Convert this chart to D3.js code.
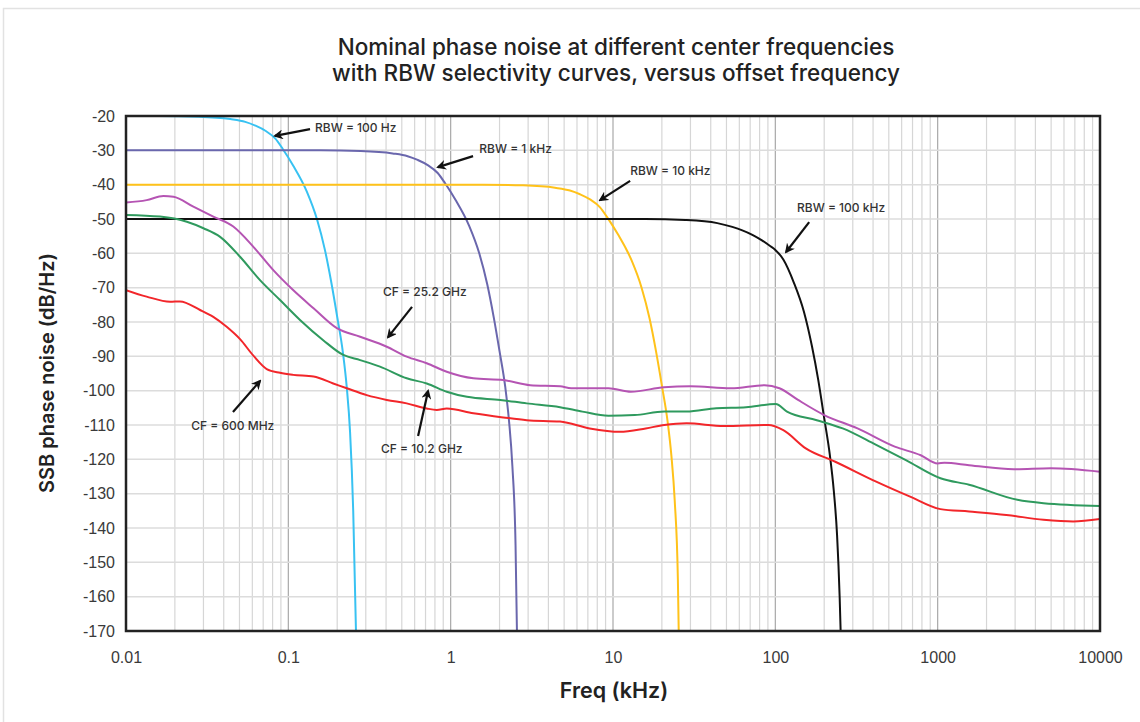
<!DOCTYPE html>
<html>
<head>
<meta charset="utf-8">
<script src="https://cdn.jsdelivr.net/npm/d3@7"></script>
<style>
  body { margin: 0; background: #fff; }
  svg { display: block; font-family: Inter, "Open Sans", sans-serif; }
  .tick text { fill: #3a3a3a; font-size: 16px; }
</style>
</head>
<body>
<svg width="1140" height="722"></svg>
<script>
// values: [offset freq (kHz), dB]
const rbw100Hz = [[0.01, -20], [0.0158, -20], [0.0279, -20.2], [0.0439, -20.9], [0.0543, -21.7],
  [0.0626, -22.8], [0.0722, -24.3], [0.0832, -26.6], [0.0924, -29.6], [0.107, -34.4], [0.13, -42],
  [0.15, -50], [0.168, -59], [0.184, -68.5], [0.2, -78.5], [0.217, -89], [0.229, -99],
  [0.24, -112], [0.251, -135], [0.261, -170]];
const rbw1kHz = [[0.01, -30], [0.158, -30], [0.279, -30.2], [0.439, -30.9], [0.543, -31.7],
  [0.626, -32.8], [0.722, -34.3], [0.832, -36.6], [0.924, -39.6], [1.07, -44.4], [1.3, -52],
  [1.5, -60], [1.68, -69], [1.84, -78.5], [2, -88.5], [2.17, -99], [2.29, -109],
  [2.4, -122], [2.51, -145], [2.56, -170]];
const rbw10kHz = [[0.01, -40], [1.58, -40], [2.79, -40.2], [4.39, -40.9], [5.43, -41.7],
  [6.26, -42.8], [7.22, -44.3], [8.32, -46.6], [9.24, -49.6], [10.7, -54.4], [13, -62],
  [15, -70], [16.8, -79], [18.4, -88.5], [20, -98.5], [21.7, -109], [22.9, -119],
  [24, -132], [25.1, -155], [25.4, -170]];
const rbw100kHz = [[0.01, -50], [15.8, -50], [27.9, -50.3], [43.9, -51.2], [54.3, -52.3],
  [62.6, -53.3], [72.2, -54.6], [83.2, -56.3], [92.4, -57.8], [100, -59], [112, -61.8],
  [130, -68.5], [150, -77], [168, -87], [184, -97], [200, -108], [217, -119], [229, -129],
  [240, -142], [249, -160], [252.5, -170]];

const cf25GHz = [[0.01, -45.2], [0.0134, -44.5], [0.017, -43.3], [0.0196, -43.5], [0.026, -46.4],
  [0.0345, -49.3], [0.0458, -52.2], [0.0609, -58.1], [0.0808, -64.9], [0.107, -70.7], [0.143, -76],
  [0.199, -81.8], [0.277, -84.3], [0.404, -87.2], [0.536, -90.1], [0.712, -92], [0.946, -94.5],
  [1.38, -96.4], [2.11, -96.9], [3.09, -98.4], [4.72, -98.7], [5.53, -99.3], [9.37, -99.3],
  [12.9, -100.3], [20.6, -99], [29.9, -98.7], [53.4, -99.3], [85.9, -98.4], [106, -99.3],
  [138, -102.7], [200, -107.1], [321, -111], [544, -116.3], [787, -118.8], [1000, -121.2],
  [1100, -121], [1561, -121.7], [2940, -122.9], [4983, -122.6], [10000, -123.6]];
const cf10GHz = [[0.01, -48.8], [0.0162, -49.3], [0.0237, -50.8], [0.03, -52.7], [0.038, -55.2],
  [0.0504, -61], [0.0669, -67.8], [0.0889, -73.6], [0.118, -79.4], [0.164, -85.3], [0.218, -89.6],
  [0.277, -91.1], [0.367, -93], [0.536, -96.4], [0.712, -97.9], [0.946, -100.3], [1.26, -101.8],
  [2.02, -102.7], [2.94, -103.7], [4.72, -104.8], [6.48, -106.1], [9.37, -107.3], [13.6, -107.1],
  [20.7, -106.1], [28.4, -106.1], [43.3, -105.1], [66, -104.8], [100.6, -103.9], [118, -106.1],
  [180, -108.6], [260, -111], [418, -115.8], [637, -120.2], [1040, -125.5], [1561, -127.4],
  [3097, -131.8], [4487, -132.8], [10000, -133.6]];
const cf600MHz = [[0.01, -70.7], [0.0134, -72.6], [0.0187, -74.1], [0.0215, -74], [0.0286, -76.5],
  [0.0345, -78.5], [0.0417, -81.4], [0.0504, -85], [0.0609, -89.8], [0.0736, -93.7], [0.0889, -94.8],
  [0.107, -95.4], [0.143, -95.9], [0.189, -97.9], [0.229, -99.3], [0.304, -101.3], [0.404, -102.7],
  [0.536, -103.7], [0.712, -105.2], [0.821, -105.6], [0.946, -105.2], [1.38, -106.6], [2.11, -107.8],
  [2.94, -108.6], [4.72, -109], [7.19, -111], [11, -112], [15.9, -111], [20.7, -110], [28.4, -109.5],
  [48.1, -110.3], [90.5, -110], [112, -111.5], [154, -116.8], [234, -120.7], [418, -126.5],
  [671, -130.8], [1040, -134.5], [1561, -135.2], [2647, -136.2], [4487, -137.6], [6838, -138.1],
  [10000, -137.4]];

const xTicks = [0.01, 0.1, 1, 10, 100, 1000, 10000];
const xTickLabels = ["0.01", "0.1", "1", "10", "100", "1000", "10000"];
const yTicks = d3.range(-170, -19, 10);

// annotation: label anchor, arrow tail, arrow tip (kHz, dB)
const notes = [
  { text: "RBW = 100 Hz", at: [0.146, -23.5], from: [0.136, -23.8], to: [0.0828, -25.8] },
  { text: "RBW = 1 kHz", at: [1.5, -29.6], from: [1.374, -31.7], to: [0.836, -34.9] },
  { text: "RBW = 10 kHz", at: [12.75, -36], from: [12.75, -38.9], to: [8.33, -44.5] },
  { text: "RBW = 100 kHz", at: [136, -46.8], from: [161.6, -50.9], to: [116.5, -59.6] },
  { text: "CF = 25.2 GHz", at: [0.383, -71.3], from: [0.578, -75.6], to: [0.4115, -84.4] },
  { text: "CF = 600 MHz", at: [0.0252, -110.3], from: [0.0456, -106.2], to: [0.0669, -97.2] },
  { text: "CF = 10.2 GHz", at: [0.3725, -117], from: [0.63, -113.2], to: [0.7258, -100.1] }
];

const series = [
  { data: rbw100Hz, color: "#38c2f2" },
  { data: rbw1kHz, color: "#6a67ad" },
  { data: rbw10kHz, color: "#ffc21a" },
  { data: rbw100kHz, color: "#111111" },
  { data: cf25GHz, color: "#b554b3" },
  { data: cf10GHz, color: "#2f9a5e" },
  { data: cf600MHz, color: "#f2262a" }
];

const svg = d3.select("svg");
const plotLeft = 126, plotRight = 1100, plotTop = 116, plotBottom = 631;

// light card border
svg.append("rect")
  .attr("x", 3.5).attr("y", 8.5)
  .attr("width", 1160).attr("height", 740)
  .attr("fill", "none").attr("stroke", "#e2e2e2").attr("stroke-width", 1.5);

const x = d3.scaleLog().domain([0.01, 10000]).range([plotLeft, plotRight]);
const y = d3.scaleLinear().domain([-170, -20]).range([plotBottom, plotTop]);

// grid
const minor = [];
for (let d = 0.01; d < 10000; d *= 10) {
  for (let k = 2; k <= 9; k++) minor.push(d * k);
}
svg.append("g").selectAll("line")
  .data(minor)
  .join("line")
  .attr("x1", d => x(d)).attr("x2", d => x(d))
  .attr("y1", plotTop).attr("y2", plotBottom)
  .attr("stroke", "#d6d6d6").attr("stroke-width", 1.2);
svg.append("g").selectAll("line")
  .data(xTicks)
  .join("line")
  .attr("x1", d => x(d)).attr("x2", d => x(d))
  .attr("y1", plotTop).attr("y2", plotBottom)
  .attr("stroke", "#a8a8a8").attr("stroke-width", 1.2);
svg.append("g").selectAll("line")
  .data(yTicks)
  .join("line")
  .attr("x1", plotLeft).attr("x2", plotRight)
  .attr("y1", d => y(d)).attr("y2", d => y(d))
  .attr("stroke", "#dcdcdc").attr("stroke-width", 1.5);

// curves
svg.append("clipPath").attr("id", "plot")
  .append("rect").attr("x", plotLeft).attr("y", plotTop - 1)
  .attr("width", plotRight - plotLeft).attr("height", plotBottom - plotTop + 1);

const line = d3.line().x(d => x(d[0])).y(d => y(d[1])).curve(d3.curveMonotoneX);

svg.append("g").attr("clip-path", "url(#plot)")
  .selectAll("path")
  .data(series)
  .join("path")
  .attr("d", d => line(d.data))
  .attr("fill", "none")
  .attr("stroke", d => d.color)
  .attr("stroke-width", 2);

// frame
svg.append("rect")
  .attr("x", plotLeft).attr("y", plotTop)
  .attr("width", plotRight - plotLeft).attr("height", plotBottom - plotTop)
  .attr("fill", "none").attr("stroke", "#222").attr("stroke-width", 2.5);

// axes
svg.append("g")
  .attr("transform", `translate(0,${plotBottom})`)
  .call(d3.axisBottom(x).tickValues(xTicks).tickSize(0).tickPadding(21)
    .tickFormat((d, i) => xTickLabels[i]))
  .call(g => g.select(".domain").remove());

svg.append("g")
  .attr("transform", `translate(${plotLeft},0)`)
  .call(d3.axisLeft(y).tickValues(yTicks).tickSize(0).tickPadding(11)
    .tickFormat(d => String(d)))
  .call(g => g.select(".domain").remove());

// annotations
svg.append("defs").append("marker")
  .attr("id", "head")
  .attr("viewBox", "0 0 10 10")
  .attr("refX", 8).attr("refY", 5)
  .attr("markerWidth", 4.5).attr("markerHeight", 4.5)
  .attr("orient", "auto")
  .append("path").attr("d", "M0,0 L10,5 L0,10 L3,5 Z").attr("fill", "#111");

const ann = svg.append("g");
ann.selectAll("line")
  .data(notes)
  .join("line")
  .attr("x1", d => x(d.from[0])).attr("y1", d => y(d.from[1]))
  .attr("x2", d => x(d.to[0])).attr("y2", d => y(d.to[1]))
  .attr("stroke", "#111").attr("stroke-width", 2.2)
  .attr("marker-end", "url(#head)");
ann.selectAll("text")
  .data(notes)
  .join("text")
  .attr("x", d => x(d.at[0])).attr("y", d => y(d.at[1]))
  .attr("dy", "0.35em")
  .attr("font-size", 12).attr("font-weight", 500).attr("fill", "#333")
  .text(d => d.text);

// titles
const title = svg.append("text")
  .attr("x", 616).attr("y", 55)
  .attr("text-anchor", "middle")
  .attr("font-size", 22.5).attr("font-weight", 500).attr("fill", "#222");
title.append("tspan").attr("x", 616).text("Nominal phase noise at different center frequencies");
title.append("tspan").attr("x", 616).attr("dy", 26).text("with RBW selectivity curves, versus offset frequency");

svg.append("text")
  .attr("x", 614).attr("y", 698)
  .attr("text-anchor", "middle")
  .attr("font-size", 21.5).attr("font-weight", 600).attr("fill", "#222")
  .text("Freq (kHz)");

svg.append("text")
  .attr("transform", "translate(54,373) rotate(-90)")
  .attr("text-anchor", "middle")
  .attr("font-size", 20).attr("font-weight", 600).attr("fill", "#222")
  .text("SSB phase noise (dB/Hz)");
</script>
</body>
</html>
